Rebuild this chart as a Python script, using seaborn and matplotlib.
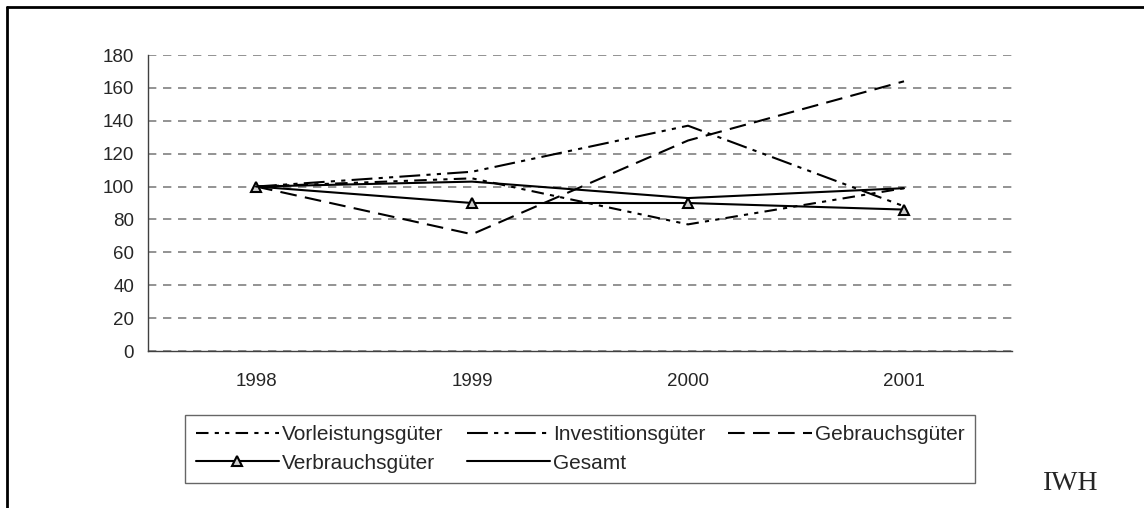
import matplotlib
matplotlib.use("Agg")
import matplotlib.pyplot as plt
from matplotlib.lines import Line2D
import pandas as pd
import seaborn as sns

years = ["1998", "1999", "2000", "2001"]
vorleistung = [100, 105, 77, 99]
investition = [100, 109, 137, 88]
gebrauch = [100, 71, 128, 164]
verbrauch = [100, 90, 90, 86]
gesamt = [100, 103, 93, 99]
y_ticks = [0, 20, 40, 60, 80, 100, 120, 140, 160, 180]

series = [
    ("Vorleistungsgüter", vorleistung, dict(dashes=(6, 3, 2, 3, 2, 3))),
    ("Investitionsgüter", investition, dict(dashes=(10, 3, 2, 3, 2, 3))),
    ("Gebrauchsgüter", gebrauch, dict(dashes=(8, 4))),
    ("Verbrauchsgüter", verbrauch, dict(marker="^", markersize=7,
                                        markerfacecolor="#cfcfcf",
                                        markeredgecolor="black",
                                        markeredgewidth=1.5)),
    ("Gesamt", gesamt, dict()),
]

sns.set_theme(style="white")
plt.rcParams["font.family"] = ["Liberation Sans", "DejaVu Sans"]

fig = plt.figure(figsize=(11.44, 5.08), dpi=100)
ax = fig.add_axes([148 / 1144, 1 - 351 / 508, (1012 - 148) / 1144, (351 - 55) / 508])

handles = {}
for name, values, style in series:
    df = pd.DataFrame({"x": range(len(years)), "y": values})
    sns.lineplot(data=df, x="x", y="y", ax=ax, color="black", linewidth=1.5, **style)
    handles[name] = ax.lines[-1]

ax.set_xlim(-0.5, len(years) - 0.5)
ax.set_ylim(0, 180)
ax.set_yticks(y_ticks)
ax.set_xticks(range(len(years)))
ax.set_xticklabels(years)
ax.set_xticks([i - 0.5 for i in range(len(years) + 1)], minor=True)
ax.tick_params(axis="x", which="major", length=0, pad=16, labelsize=13.5)
ax.tick_params(axis="x", which="minor", length=5, width=1, direction="out", color="#404040")
ax.tick_params(axis="y", length=5, width=1, direction="out", color="#404040", pad=5, labelsize=13.5)
ax.set_xlabel("")
ax.set_ylabel("")

ax.grid(axis="y", color="#808080", linestyle=(0, (5, 4)), linewidth=1.2)
for s in ["top", "right"]:
    ax.spines[s].set_visible(False)
for s in ["left", "bottom"]:
    ax.spines[s].set_color("#404040")
    ax.spines[s].set_linewidth(1)
ax.set_axisbelow(True)

order = ["Vorleistungsgüter", "Verbrauchsgüter", "Investitionsgüter", "Gesamt", "Gebrauchsgüter"]
leg = fig.legend([handles[n] for n in order], order, ncol=3,
                 loc="center", bbox_to_anchor=(580 / 1144, 1 - 449 / 508),
                 frameon=True, fancybox=False, edgecolor="#404040",
                 fontsize=15, handlelength=4.0, handletextpad=0.15,
                 columnspacing=1.1, borderpad=0.5, labelspacing=0.45)
leg.get_frame().set_linewidth(1)

fig.text(1071 / 1144, 1 - 484 / 508, "IWH", ha="center", va="center",
         fontsize=20, family=["Liberation Serif", "DejaVu Serif"])

fig.add_artist(Line2D([7 / 1144, 1.0], [1 - 7 / 508, 1 - 7 / 508],
                      transform=fig.transFigure, color="black", linewidth=2))
fig.add_artist(Line2D([7 / 1144, 7 / 1144], [1 - 7 / 508, 0.0],
                      transform=fig.transFigure, color="black", linewidth=2))

fig.savefig("out.png", dpi=100, facecolor="white")
